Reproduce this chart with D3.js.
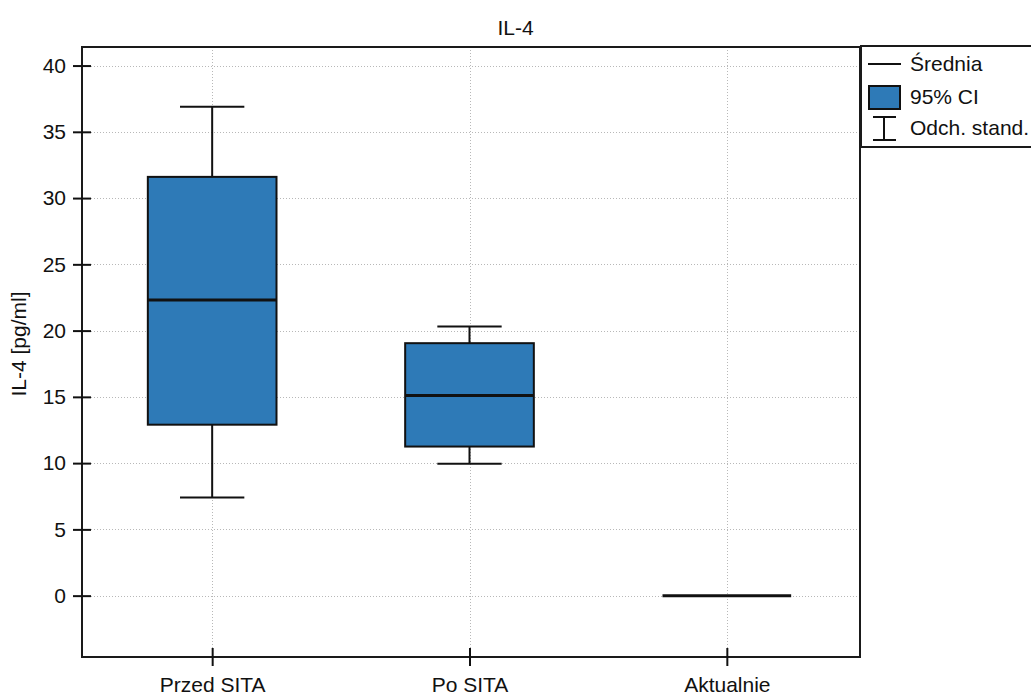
<!DOCTYPE html>
<html>
<head>
<meta charset="utf-8">
<script src="https://cdn.jsdelivr.net/npm/d3@7/dist/d3.min.js"></script>
<style>
  html, body { margin: 0; padding: 0; background: #fff; }
  svg { display: block; font-family: "Liberation Sans", Arial, sans-serif; }
</style>
</head>
<body>
<svg id="chart" width="1031" height="700"></svg>
<script>
// Groups and summary statistics for IL-4
const categories = ["Przed SITA", "Po SITA", "Aktualnie"];
const means      = [22.3, 15.1, 0];
const ciLow      = [12.9, 11.25, 0];
const ciHigh     = [31.6, 19.05, 0];
const sdLow      = [7.4, 9.95, 0];
const sdHigh     = [36.9, 20.3, 0];
const yTicks     = [0, 5, 10, 15, 20, 25, 30, 35, 40];
const legendLabels = ["Średnia", "95% CI", "Odch. stand."];

const svg = d3.select("#chart");
const W = 1031, H = 700;
const plot = { left: 82, top: 47, right: 860, bottom: 657 };
const boxFill = "#2e7ab7";
const fontSize = 21;
const ink = "#111";

const x = d3.scalePoint().domain(categories).range([83.5, 855.5]).padding(0.5);
const step = x.step();
const y = d3.scaleLinear().domain([-4.63, 41.4]).range([plot.bottom, plot.top]);

const rows = categories.map((c, i) => ({
  cat: c, mean: means[i], lo: ciLow[i], hi: ciHigh[i], sdLo: sdLow[i], sdHi: sdHigh[i]
}));

// Grid lines
const grid = svg.append("g").attr("stroke", "#b8b8b8").attr("stroke-width", 1)
  .attr("stroke-dasharray", "1,2");
grid.selectAll("line.h").data(yTicks).join("line")
  .attr("x1", plot.left).attr("x2", plot.right)
  .attr("y1", d => Math.round(y(d)) + 0.5).attr("y2", d => Math.round(y(d)) + 0.5);
grid.selectAll("line.v").data(categories).join("line")
  .attr("y1", plot.top).attr("y2", plot.bottom)
  .attr("x1", d => Math.round(x(d)) + 0.5).attr("x2", d => Math.round(x(d)) + 0.5);

// Frame
svg.append("rect")
  .attr("x", plot.left).attr("y", plot.top)
  .attr("width", plot.right - plot.left).attr("height", plot.bottom - plot.top)
  .attr("fill", "none").attr("stroke", "#1a1a1a").attr("stroke-width", 2);

// Whiskers (standard deviation)
const boxW = step * 0.5, capW = step * 0.25;
const g = svg.append("g");
const marks = g.selectAll("g.grp").data(rows).join("g").attr("class", "grp");
marks.filter(d => d.sdHi !== d.sdLo).each(function(d) {
  const s = d3.select(this), cx = x(d.cat);
  s.append("line").attr("x1", cx).attr("x2", cx).attr("y1", y(d.sdHi)).attr("y2", y(d.sdLo))
    .attr("stroke", ink).attr("stroke-width", 2);
  [d.sdHi, d.sdLo].forEach(v => {
    s.append("line").attr("x1", cx - capW / 2).attr("x2", cx + capW / 2)
      .attr("y1", y(v)).attr("y2", y(v)).attr("stroke", ink).attr("stroke-width", 2);
  });
});
// Boxes (95% CI)
marks.filter(d => d.hi !== d.lo).append("rect")
  .attr("x", d => x(d.cat) - boxW / 2).attr("width", boxW)
  .attr("y", d => y(d.hi)).attr("height", d => y(d.lo) - y(d.hi))
  .attr("fill", boxFill).attr("stroke", ink).attr("stroke-width", 2);
// Mean lines
marks.append("line")
  .attr("x1", d => x(d.cat) - boxW / 2).attr("x2", d => x(d.cat) + boxW / 2)
  .attr("y1", d => y(d.mean)).attr("y2", d => y(d.mean))
  .attr("stroke", ink).attr("stroke-width", 3);

// Axes
const yAxis = d3.axisLeft(y).tickValues(yTicks).tickSizeInner(9).tickSizeOuter(0).tickPadding(7);
const ya = svg.append("g").attr("transform", `translate(${plot.left},0)`).call(yAxis);
ya.select(".domain").remove();
ya.selectAll(".tick line").attr("x2", 9).attr("x1", -9).attr("stroke", ink).attr("stroke-width", 2);
ya.selectAll(".tick text").attr("font-size", fontSize).attr("fill", ink)
  .attr("font-family", "Liberation Sans, Arial, sans-serif");

const xAxis = d3.axisBottom(x).tickSizeInner(9).tickSizeOuter(0).tickPadding(11);
const xa = svg.append("g").attr("transform", `translate(0,${plot.bottom})`).call(xAxis);
xa.select(".domain").remove();
xa.selectAll(".tick line").attr("y1", -9).attr("y2", 9).attr("stroke", ink).attr("stroke-width", 2);
xa.selectAll(".tick text").attr("font-size", fontSize).attr("fill", ink)
  .attr("font-family", "Liberation Sans, Arial, sans-serif");

// Title and axis label
svg.append("text").attr("x", W / 2).attr("y", 35).attr("text-anchor", "middle")
  .attr("font-size", fontSize).attr("fill", ink).text("IL-4");
svg.append("text").attr("transform", `translate(26,${(plot.top + plot.bottom) / 2 - 8}) rotate(-90)`)
  .attr("text-anchor", "middle").attr("font-size", fontSize).attr("fill", ink).text("IL-4 [pg/ml]");

// Legend
const lg = svg.append("g");
lg.append("rect").attr("x", 861).attr("y", 46).attr("width", 200).attr("height", 101)
  .attr("fill", "#fff").attr("stroke", "#1a1a1a").attr("stroke-width", 2);
const items = [64, 97, 128];
lg.append("line").attr("x1", 868).attr("x2", 901).attr("y1", items[0]).attr("y2", items[0])
  .attr("stroke", ink).attr("stroke-width", 2);
lg.append("rect").attr("x", 869).attr("y", 86).attr("width", 31).attr("height", 23)
  .attr("fill", boxFill).attr("stroke", ink).attr("stroke-width", 2);
lg.append("line").attr("x1", 884).attr("x2", 884).attr("y1", 117).attr("y2", 140)
  .attr("stroke", ink).attr("stroke-width", 2);
[117, 140].forEach(v => lg.append("line").attr("x1", 873).attr("x2", 896)
  .attr("y1", v).attr("y2", v).attr("stroke", ink).attr("stroke-width", 2));
lg.selectAll("text.lab").data(legendLabels).join("text")
  .attr("x", 910).attr("y", (d, i) => items[i]).attr("dy", "0.35em")
  .attr("font-size", fontSize).attr("fill", ink).text(d => d);
</script>
</body>
</html>
